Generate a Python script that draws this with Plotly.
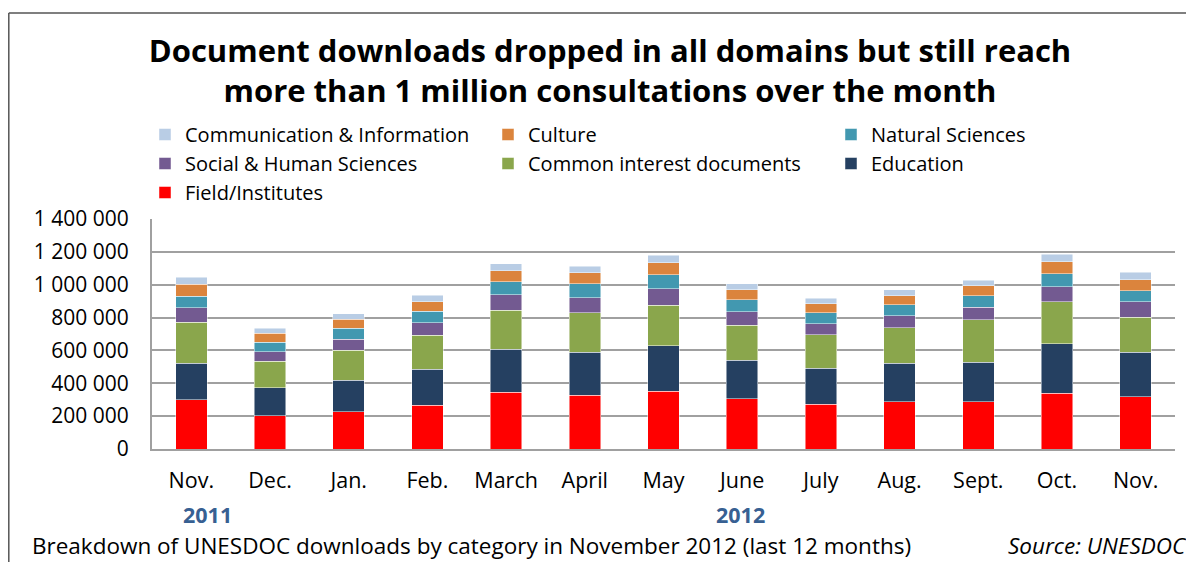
import plotly.graph_objects as go

months = ["Nov.", "Dec.", "Jan.", "Feb.", "March", "April", "May", "June",
          "July", "Aug.", "Sept.", "Oct.", "Nov."]
month_keys = [f"m{i}" for i in range(len(months))]

field_institutes = [299000, 201000, 226000, 267000, 346000, 328000, 352000, 307000, 271000, 289000, 289000, 340000, 319000]
education = [224000, 171000, 193000, 217000, 262000, 260000, 275000, 234000, 221000, 234000, 240000, 301000, 271000]
common_interest = [248000, 161000, 181000, 208000, 236000, 242000, 248000, 212000, 204000, 214000, 258000, 254000, 212000]
social_human = [88000, 59000, 69000, 77000, 94000, 92000, 100000, 81000, 65000, 73000, 76000, 92000, 93000]
natural_sciences = [71000, 59000, 66000, 71000, 79000, 83000, 85000, 73000, 67000, 67000, 69000, 79000, 67000]
culture = [73000, 55000, 56000, 57000, 67000, 67000, 73000, 61000, 55000, 55000, 61000, 73000, 68000]
comm_info = [41000, 29000, 33000, 39000, 45000, 41000, 47000, 39000, 35000, 36000, 34000, 45000, 46000]

series = [
    ("Field/Institutes", field_institutes, "#FF0000"),
    ("Education", education, "#254061"),
    ("Common interest documents", common_interest, "#8AA64C"),
    ("Social & Human Sciences", social_human, "#735A91"),
    ("Natural Sciences", natural_sciences, "#4298B0"),
    ("Culture", culture, "#DB843D"),
    ("Communication & Information", comm_info, "#B9CDE5"),
]

y_tick_vals = [0, 200000, 400000, 600000, 800000, 1000000, 1200000, 1400000]
y_tick_text = ["0", "200 000", "400 000", "600 000", "800 000", "1 000 000", "1 200 000", "1 400 000"]

FONT = "Open Sans"

# page body has an 8px margin: figure drawn 8px in from the window corner
OFF = 8
W, H = 1194 - OFF, 562 - OFF
# plot area in window pixels: x 152..1175, y 219..449
PL, PR, PT, PB = 152, 1175, 219, 449
L, R = PL - OFF, W - (PR - OFF)
T, B = PT - OFF, H - (PB - OFF)
pw, ph = PR - PL, PB - PT

def px(xw):
    return (xw - PL) / pw

def py(yw):
    return (PB - yw) / ph

fig = go.Figure()
for name, vals, color in series:
    fig.add_trace(go.Bar(
        x=month_keys, y=vals, name=name,
        marker=dict(color=color, line=dict(color="rgba(255,255,255,0.6)", width=0.8)),
    ))

fig.update_layout(
    width=W, height=H,
    margin=dict(l=L, r=R, t=T, b=B),
    barmode="stack", bargap=0.6,
    plot_bgcolor="white", paper_bgcolor="white",
    font=dict(family=FONT, color="#000000", size=20),
    title=dict(
        text="Document downloads dropped in all domains but still reach<br>more than 1 million consultations over the month",
        x=(610 - OFF) / W, xanchor="center", y=1 - (62 - OFF) / H, yanchor="middle",
        font=dict(family=FONT, size=31, color="#000000", weight="bold"),
    ),
    legend=dict(
        orientation="h", traceorder="reversed",
        x=px(145), xanchor="left", y=py(115), yanchor="top",
        entrywidth=298, entrywidthmode="pixels",
        font=dict(family=FONT, size=20, color="#000000"),
        bgcolor="rgba(0,0,0,0)", tracegroupgap=0,
    ),
    xaxis=dict(
        tickmode="array", tickvals=month_keys, ticktext=months,
        showgrid=False, showline=True, linecolor="#A0A0A0", linewidth=2,
        ticks="", ticklabelstandoff=11,
        tickfont=dict(family=FONT, size=21.5, color="#000000"),
    ),
    yaxis=dict(
        range=[0, 1400000], tickmode="array", tickvals=y_tick_vals, ticktext=y_tick_text,
        showgrid=True, gridcolor="#A0A0A0", gridwidth=2,
        showline=True, linecolor="#A0A0A0", linewidth=2,
        zeroline=False, ticks="", ticklabelstandoff=17,
        tickfont=dict(family=FONT, size=21, color="#000000"),
    ),
    showlegend=True,
)

annotations = [
    dict(text="<b>2011</b>", x=px(207), y=py(514), xref="paper", yref="paper",
         showarrow=False, xanchor="center", yanchor="middle",
         font=dict(family=FONT, size=21.5, color="#376092")),
    dict(text="<b>2012</b>", x=px(740), y=py(514), xref="paper", yref="paper",
         showarrow=False, xanchor="center", yanchor="middle",
         font=dict(family=FONT, size=21.5, color="#376092")),
    dict(text="Breakdown of UNESDOC downloads by category in November 2012 (last 12 months)",
         x=px(30), y=py(545), xref="paper", yref="paper", showarrow=False,
         xanchor="left", yanchor="middle", font=dict(family=FONT, size=22.5, color="#000000")),
    dict(text="<i>Source: UNESDOC</i>",
         x=px(1189), y=py(545), xref="paper", yref="paper", showarrow=False,
         xanchor="right", yanchor="middle", font=dict(family=FONT, size=22.5, color="#000000")),
]
fig.update_layout(annotations=annotations)

fig.update_layout(shapes=[
    dict(type="line", xref="paper", yref="paper", x0=px(8.8), x1=px(1194), y0=py(13), y1=py(13),
         line=dict(color="#555555", width=1.5)),
    dict(type="line", xref="paper", yref="paper", x0=px(8.8), x1=px(8.8), y0=py(13), y1=py(562),
         line=dict(color="#555555", width=1.5)),
])

fig.write_html("out.html")
